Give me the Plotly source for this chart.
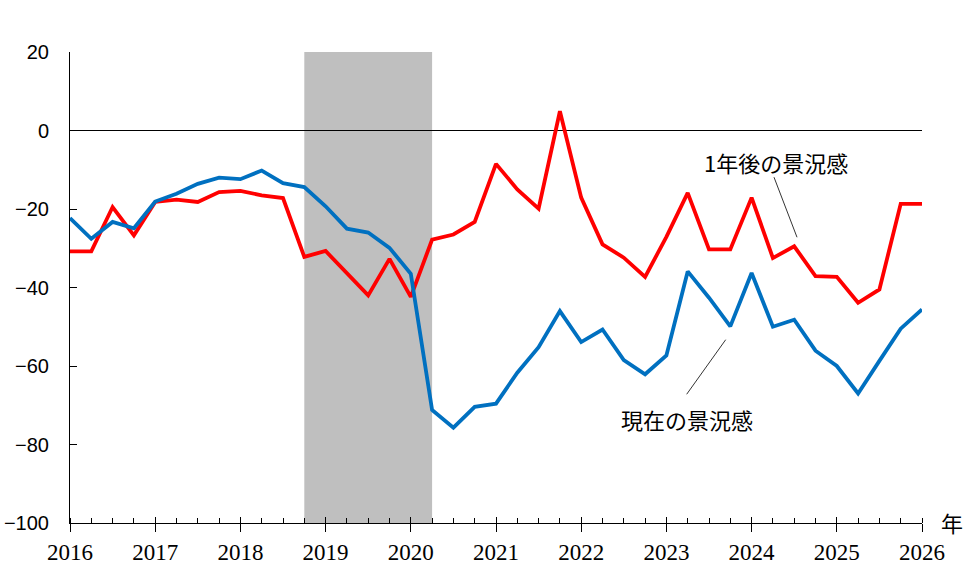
import plotly.graph_objects as go

# Quarterly observations from 2016 Q1 (2016.00) to 2026 Q1 (2026.00)
quarters = [2016 + 0.25 * i for i in range(41)]

future_outlook = [  # 1年後の景況感
    -30.8, -30.8, -19.5, -26.7, -18.2, -17.6, -18.2, -15.7, -15.4, -16.5,
    -17.2, -32.2, -30.7, -36.5, -42.0, -32.7, -42.4, -27.8, -26.5, -23.3,
    -8.5, -15.0, -19.9, 4.9, -17.1, -29.0, -32.4, -37.3, -27.1, -15.9,
    -30.3, -30.3, -17.1, -32.5, -29.5, -37.1, -37.3, -43.9, -40.5, -18.7,
    -18.7,
]
current_outlook = [  # 現在の景況感
    -22.3, -27.6, -23.3, -24.9, -18.1, -16.1, -13.6, -12.0, -12.4, -10.2,
    -13.4, -14.4, -19.3, -25.0, -26.0, -29.9, -36.5, -71.2, -75.7, -70.4,
    -69.6, -61.7, -55.2, -46.0, -53.9, -50.7, -58.5, -62.1, -57.3, -35.9,
    -42.6, -49.9, -36.3, -50.0, -48.2, -56.1, -60.0, -67.0, -58.7, -50.5,
    -45.6,
]
year_ticks = list(range(2016, 2027))
y_ticks = [-100, -80, -60, -40, -20, 0, 20]
shade_span = (2018.75, 2020.25)

RED = "#FF0000"
BLUE = "#0070C0"

fig = go.Figure()
fig.add_trace(go.Scatter(x=quarters, y=future_outlook, mode="lines",
                         line=dict(color=RED, width=3.8), name="1年後の景況感",
                         showlegend=False))
fig.add_trace(go.Scatter(x=quarters, y=current_outlook, mode="lines",
                         line=dict(color=BLUE, width=3.8), name="現在の景況感",
                         showlegend=False))
# invisible trace on overlay axis to draw the upper half of year ticks
fig.add_trace(go.Scatter(x=[year_ticks[0], year_ticks[-1]], y=[None, None],
                         xaxis="x2", yaxis="y", mode="lines", showlegend=False,
                         hoverinfo="skip"))

fig.add_vrect(x0=shade_span[0], x1=shade_span[1], y0=0, y1=1,
              fillcolor="#BFBFBF", line_width=0, layer="below")
fig.add_shape(type="line", xref="paper", x0=0, x1=1, y0=0, y1=0,
              line=dict(color="black", width=1), layer="below")

# leader lines
fig.add_shape(type="line", x0=2024.263, y0=-11.9, x1=2024.533, y1=-27.2,
              line=dict(color="black", width=0.8))
fig.add_shape(type="line", x0=2023.696, y0=-53.3, x1=2023.238, y1=-67.2,
              line=dict(color="black", width=0.8))

jp_font = dict(family="Noto Sans CJK JP", size=22, color="black")
fig.add_annotation(x=2024.286, y=-8.1, text="1年後の景況感", showarrow=False,
                   font=jp_font)
fig.add_annotation(x=2023.242, y=-73.5, text="現在の景況感", showarrow=False,
                   font=jp_font)
fig.add_annotation(xref="paper", yref="paper", x=1.035, y=0.003, text="年",
                   showarrow=False, font=jp_font, xanchor="center",
                   yanchor="middle")

fig.update_layout(
    width=976, height=580,
    margin=dict(l=70, r=54, t=52, b=57),
    plot_bgcolor="white", paper_bgcolor="white",
    xaxis=dict(range=[year_ticks[0], year_ticks[-1]], tickvals=year_ticks,
               ticktext=[str(y) for y in year_ticks], automargin=False,
               ticks="outside", ticklen=8, tickcolor="black", tickwidth=1,
               showline=True, linecolor="black", linewidth=1,
               showgrid=False, zeroline=False,
               tickfont=dict(family="Liberation Sans Narrow", size=23, color="black"),
               minor=dict(dtick=0.25, tick0=2016, ticks="inside", ticklen=5,
                          tickcolor="black", tickwidth=1, showgrid=False)),
    xaxis2=dict(range=[year_ticks[0], year_ticks[-1]], overlaying="x",
                anchor="y", side="bottom", tickvals=year_ticks,
                showticklabels=False, ticks="inside", ticklen=6,
                tickcolor="black", tickwidth=1, showgrid=False,
                zeroline=False, showline=False),
    yaxis=dict(range=[-100, 20], tickvals=y_ticks, automargin=False,
               ticks="inside", ticklen=7, tickcolor="black", tickwidth=1,
               showline=True, linecolor="black", linewidth=1,
               showgrid=False, zeroline=False, ticklabelstandoff=16,
               tickfont=dict(family="Liberation Sans", size=20, color="black")),
)

fig.write_html("out.html")
